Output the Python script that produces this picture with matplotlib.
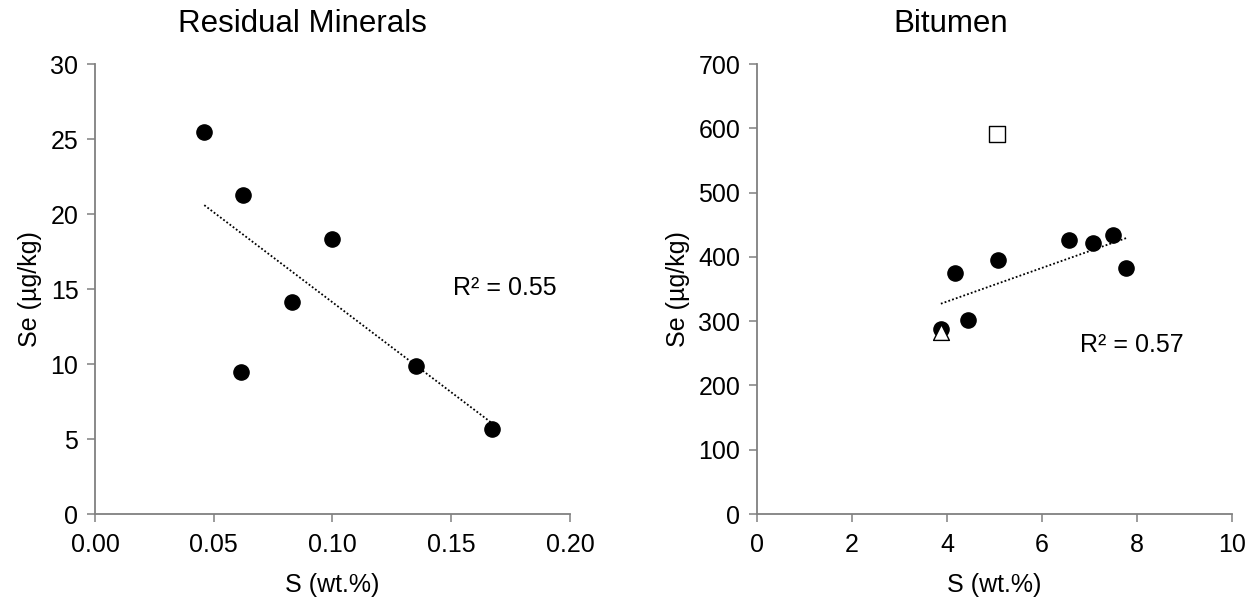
import numpy as np
import matplotlib.pyplot as plt

plt.rcParams['font.family'] = ['Liberation Sans', 'DejaVu Sans']

# Residual minerals
rm_s = [0.0460, 0.0625, 0.0999, 0.0828, 0.0615, 0.1350, 0.1672]
rm_se = [25.47, 21.27, 18.31, 14.13, 9.49, 9.87, 5.67]

# Bitumen
bit_s = [3.87, 4.17, 5.07, 4.45, 6.57, 7.08, 7.49, 7.77]
bit_se = [288, 375, 395, 302, 426, 421, 434, 382]
tri_s, tri_se = [3.87], [283]
sq_s, sq_se = [5.05], [591]

fig = plt.figure(figsize=(12.54, 6), dpi=100)
ax1 = fig.add_axes([0.0758, 0.1433, 0.3787, 0.75])
ax2 = fig.add_axes([0.6037, 0.1433, 0.3788, 0.75])


def style(ax):
    for s in ["top", "right"]:
        ax.spines[s].set_visible(False)
    for s in ["left", "bottom"]:
        ax.spines[s].set_color("#808080")
        ax.spines[s].set_linewidth(1.3)
    ax.tick_params(direction="out", length=6, width=1.1, color="#808080", labelsize=18, pad=6)
    ax.tick_params(axis="x", pad=8)
    ax.set_xlabel("S (wt.%)", fontsize=18, labelpad=11)
    ax.set_ylabel("Se (µg/kg)", fontsize=18, labelpad=6)


def trend(ax, x, y):
    x = np.array(x)
    y = np.array(y)
    m, b = np.polyfit(x, y, 1)
    xs = np.array([x.min(), x.max()])
    ax.plot(xs, m * xs + b, color="black", lw=1.3, ls=(0, (1, 1.2)), zorder=1)


# left panel
trend(ax1, rm_s, rm_se)
ax1.scatter(rm_s, rm_se, s=120, color="black", zorder=3)
ax1.set_xlim(0, 0.2)
ax1.set_ylim(0, 30)
ax1.set_xticks([0, 0.05, 0.10, 0.15, 0.20])
ax1.set_xticklabels(["0.00", "0.05", "0.10", "0.15", "0.20"])
ax1.set_yticks(range(0, 31, 5))
ax1.text(0.1507, 15.1, "R² = 0.55", fontsize=18, va="center")
ax1.set_title("Residual Minerals", fontsize=22.5, pad=23, x=0.436)
style(ax1)

# right panel
trend(ax2, bit_s, bit_se)
ax2.scatter(bit_s, bit_se, s=120, color="black", zorder=3)
ax2.scatter(tri_s, tri_se, s=130, marker="^", facecolor="white", edgecolor="black", lw=1, zorder=4)
ax2.scatter(sq_s, sq_se, s=130, marker="s", facecolor="white", edgecolor="black", lw=1, zorder=4)
ax2.set_xlim(0, 10)
ax2.set_ylim(0, 700)
ax2.set_xticks(range(0, 11, 2))
ax2.set_yticks(range(0, 701, 100))
ax2.text(6.8, 263, "R² = 0.57", fontsize=18, va="center")
ax2.set_title("Bitumen", fontsize=22.5, pad=23, x=0.408)
style(ax2)

fig.savefig("out.png", dpi=100)
